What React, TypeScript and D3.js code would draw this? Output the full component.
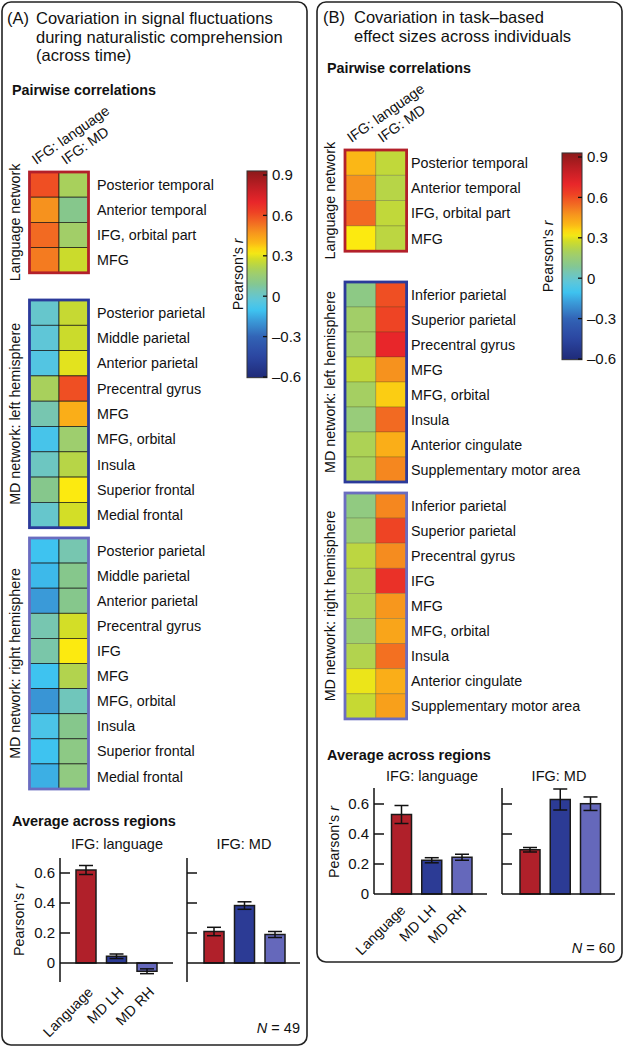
import React from 'react';
import * as d3 from 'd3';

const FONT = "'Liberation Sans', Arial, Helvetica, sans-serif";

// ---------- Heatmap data ----------
const colLabels = ["IFG: language", "IFG: MD"];

// Panel A: naturalistic comprehension
const aLangRegions = ["Posterior temporal", "Anterior temporal", "IFG, orbital part", "MFG"];
const aLangIFGlang = [0.6, 0.48, 0.55, 0.52];
const aLangIFGmd = [0.2, 0.1, 0.18, 0.27];

const aLHRegions = ["Posterior parietal", "Middle parietal", "Anterior parietal", "Precentral gyrus", "MFG", "MFG, orbital", "Insula", "Superior frontal", "Medial frontal"];
const aLHIFGlang = [0.0, -0.02, -0.05, 0.2, 0.05, -0.08, 0.02, 0.1, 0.0];
const aLHIFGmd = [0.26, 0.27, 0.3, 0.6, 0.42, 0.17, 0.23, 0.33, 0.28];

const aRHRegions = ["Posterior parietal", "Middle parietal", "Anterior parietal", "Precentral gyrus", "IFG", "MFG", "MFG, orbital", "Insula", "Superior frontal", "Medial frontal"];
const aRHIFGlang = [-0.1, -0.12, -0.18, 0.05, 0.06, -0.1, -0.19, -0.07, -0.1, -0.14];
const aRHIFGmd = [0.05, 0.1, 0.1, 0.28, 0.33, 0.22, 0.03, 0.1, 0.12, 0.13];

// Panel B: task-based effect sizes
const bLangRegions = ["Posterior temporal", "Anterior temporal", "IFG, orbital part", "MFG"];
const bLangIFGlang = [0.4, 0.48, 0.55, 0.33];
const bLangIFGmd = [0.25, 0.23, 0.25, 0.24];

const bLHRegions = ["Inferior parietal", "Superior parietal", "Precentral gyrus", "MFG", "MFG, orbital", "Insula", "Anterior cingulate", "Supplementary motor area"];
const bLHIFGlang = [0.12, 0.18, 0.18, 0.25, 0.19, 0.15, 0.21, 0.2];
const bLHIFGmd = [0.6, 0.62, 0.7, 0.48, 0.37, 0.55, 0.42, 0.5];

const bRHRegions = ["Inferior parietal", "Superior parietal", "Precentral gyrus", "IFG", "MFG", "MFG, orbital", "Insula", "Anterior cingulate", "Supplementary motor area"];
const bRHIFGlang = [0.13, 0.16, 0.24, 0.21, 0.21, 0.17, 0.22, 0.31, 0.26];
const bRHIFGmd = [0.5, 0.62, 0.49, 0.67, 0.47, 0.44, 0.54, 0.42, 0.45];

const colorbarTicks = [0.9, 0.6, 0.3, 0, -0.3, -0.6];
const colorbarTickLabels = ["0.9", "0.6", "0.3", "0", "–0.3", "–0.6"];

// ---------- Bar data ----------
const barCategories = ["Language", "MD LH", "MD RH"];
const aLangMean = [0.62, 0.045, -0.055];
const aLangErr = [0.03, 0.015, 0.016];
const aMDMean = [0.21, 0.383, 0.19];
const aMDErr = [0.028, 0.025, 0.02];
const bLangMean = [0.53, 0.225, 0.245];
const bLangErr = [0.06, 0.017, 0.02];
const bMDMean = [0.295, 0.63, 0.602];
const bMDErr = [0.015, 0.07, 0.045];
const barTicks = [0, 0.2, 0.4, 0.6];
const barTickLabels = ["0", "0.2", "0.4", "0.6"];

// ---------- Styles ----------
const cmapStops = [-0.6, -0.45, -0.3, -0.18, -0.1, -0.03, 0.05, 0.1, 0.15, 0.2, 0.27, 0.33, 0.4, 0.48, 0.55, 0.62, 0.7, 0.8, 0.93];
const cmapColors = ["#1f2a78", "#2b45a0", "#3262b5", "#3a9ad8", "#3ec3f0", "#5cc6dc", "#77c6b0", "#86c78c", "#98cc7a", "#a8d05c", "#cbdb2c", "#fcea10", "#fbb716", "#f6921e", "#f26a22", "#ee4424", "#e8262a", "#c41e25", "#8b1a1a"];
const cmap = d3.scaleLinear<string>().domain(cmapStops).range(cmapColors).interpolate(d3.interpolateRgb).clamp(true);

const LANG_BORDER = "#b3202a";
const LH_BORDER = "#2b3a9a";
const RH_BORDER = "#6a6dc0";
const barColors = ["#b0202a", "#2c3b95", "#6568bb"];

type HeatProps = {
  x0: number; top: number; cellW: number; rowH: number;
  regions: string[]; v1: number[]; v2: number[];
  border: string; labelX: number; groupLabel: string; groupX: number; sep: string;
};

function HeatGroup(p: HeatProps) {
  const n = p.regions.length;
  const y = d3.scaleBand<number>().domain(d3.range(n)).range([p.top, p.top + n * p.rowH]);
  const x = d3.scaleBand<string>().domain(colLabels).range([p.x0, p.x0 + 2 * p.cellW]);
  const vals = [p.v1, p.v2];
  const h = n * p.rowH;
  return (
    <g>
      {colLabels.map((c, j) =>
        d3.range(n).map(i => (
          <rect key={c + i} x={x(c)} y={y(i)} width={x.bandwidth()} height={y.bandwidth()}
            fill={cmap(vals[j][i])} stroke={p.sep} strokeWidth={0.8} />
        ))
      )}
      <rect x={p.x0} y={p.top} width={2 * p.cellW} height={h} fill="none" stroke={p.border} strokeWidth={2.8} />
      {p.regions.map((r, i) => (
        <text key={r + i} x={p.labelX} y={(y(i) as number) + y.bandwidth() / 2} dy="0.36em"
          fontSize={14.3} fontFamily={FONT} fill="#111">{r}</text>
      ))}
      <text transform={`translate(${p.groupX},${p.top + h / 2}) rotate(-90)`} textAnchor="middle"
        fontSize={14.3} fontFamily={FONT} fill="#111">{p.groupLabel}</text>
    </g>
  );
}

function ColHeaders({ x0, cellW, top, dx }: { x0: number; cellW: number; top: number; dx: number }) {
  const x = d3.scaleBand<string>().domain(colLabels).range([x0, x0 + 2 * cellW]);
  return (
    <g>
      {colLabels.map(c => (
        <text key={c} transform={`translate(${(x(c) as number) + cellW / 2 + dx},${top - 7}) rotate(-35)`}
          fontSize={14.3} fontFamily={FONT} fill="#111">{c}</text>
      ))}
    </g>
  );
}

function Colorbar({ x, y9, y6, w, labelX, id }: { x: number; y9: number; y6: number; w: number; labelX: number; id: string }) {
  const y = d3.scaleLinear().domain([-0.6, 0.9]).range([y6, y9]);
  const gradVals = d3.range(0, 41).map(k => -0.6 + (k / 40) * 1.53);
  const top = y(0.93);
  const bot = y(-0.605);
  return (
    <g>
      <defs>
        <linearGradient id={id} x1="0" y1="1" x2="0" y2="0">
          {gradVals.map((v, k) => (
            <stop key={k} offset={`${(k / 40) * 100}%`} stopColor={cmap(v)} />
          ))}
        </linearGradient>
      </defs>
      <rect x={x} y={top} width={w} height={bot - top} fill={`url(#${id})`} stroke="#333" strokeWidth={1} />
      {colorbarTicks.map((t, k) => (
        <g key={t}>
          <line x1={x + w - 4} x2={x + w} y1={y(t)} y2={y(t)} stroke="#111" strokeWidth={1.3} />
          <text x={x + w + 5} y={y(t)} dy="0.36em" fontSize={15} fontFamily={FONT} fill="#111">{colorbarTickLabels[k]}</text>
        </g>
      ))}
      <text transform={`translate(${labelX},${(top + bot) / 2}) rotate(-90)`} textAnchor="middle" fontSize={14.3} fontFamily={FONT} fill="#111">
        Pearson's <tspan fontStyle="italic">r</tspan>
      </text>
    </g>
  );
}

type BarProps = {
  axisX: number; y0: number; y06: number; yMin: number; yMax: number;
  means: number[]; errs: number[]; showLabels: boolean; labels: boolean;
  firstOff: number; lastOff: number; labelDx: number; labelY: number;
};

function BarSub(p: BarProps) {
  const y = d3.scaleLinear().domain([0, 0.6]).range([p.y0, p.y06]);
  const x = d3.scalePoint<string>().domain(barCategories).range([p.axisX + p.firstOff, p.axisX + p.lastOff]);
  const bw = 20;
  return (
    <g>
      {barCategories.map((c, i) => {
        const cx = x(c) as number;
        const m = p.means[i];
        const e = p.errs[i];
        const yt = Math.min(y(m), y(0));
        const hh = Math.abs(y(m) - y(0));
        return (
          <g key={c}>
            <rect x={cx - bw / 2} y={yt} width={bw} height={hh} fill={barColors[i]} stroke="#1a1a1a" strokeWidth={1.5} />
            <line x1={cx} x2={cx} y1={y(m - e)} y2={y(m + e)} stroke="#111" strokeWidth={1.5} />
            <line x1={cx - 7} x2={cx + 7} y1={y(m - e)} y2={y(m - e)} stroke="#111" strokeWidth={1.5} />
            <line x1={cx - 7} x2={cx + 7} y1={y(m + e)} y2={y(m + e)} stroke="#111" strokeWidth={1.5} />
          </g>
        );
      })}
      <line x1={p.axisX} x2={p.axisX} y1={y(p.yMin)} y2={y(p.yMax)} stroke="#111" strokeWidth={1.5} />
      <line x1={p.axisX} x2={p.axisX + 113} y1={y(0)} y2={y(0)} stroke="#111" strokeWidth={1.5} />
      {barTicks.filter(t => t > 0).map(t => (
        <line key={t} x1={p.axisX} x2={p.axisX + 10} y1={y(t)} y2={y(t)} stroke="#111" strokeWidth={1.5} />
      ))}
      {p.showLabels && barTicks.map((t, k) => (
        <text key={t} x={p.axisX - 5} y={y(t)} dy="0.36em" textAnchor="end" fontSize={15} fontFamily={FONT} fill="#111">{barTickLabels[k]}</text>
      ))}
      {p.labels && barCategories.map(c => (
        <text key={c} transform={`translate(${(x(c) as number) + p.labelDx},${p.labelY}) rotate(-45)`} textAnchor="end"
          fontSize={14.3} fontFamily={FONT} fill="#111">{c}</text>
      ))}
    </g>
  );
}

const T = { fontFamily: FONT, fill: "#111" } as const;

export default function App() {
  return (
    <svg width={625} height={1050} style={{ position: 'absolute', left: 0, top: 0, background: '#fff' }}>
      {/* Panel boxes */}
      <rect x={2} y={2} width={305} height={1043} rx={9} fill="none" stroke="#222" strokeWidth={1.6} />
      <rect x={317} y={2} width={305} height={960} rx={9} fill="none" stroke="#222" strokeWidth={1.6} />

      {/* ===== Panel A ===== */}
      <text x={7} y={24} fontSize={16.5} {...T}>(A)</text>
      <text x={36} y={24} fontSize={16.5} {...T}>Covariation in signal fluctuations</text>
      <text x={36} y={43} fontSize={16.5} {...T}>during naturalistic comprehension</text>
      <text x={36} y={61} fontSize={16.5} {...T}>(across time)</text>
      <text x={12} y={95} fontSize={14.3} fontWeight="bold" {...T}>Pairwise correlations</text>

      <ColHeaders x0={29.5} cellW={29.5} top={172} dx={-8} />
      <HeatGroup x0={29.5} top={172} cellW={29.5} rowH={25.2} regions={aLangRegions} v1={aLangIFGlang} v2={aLangIFGmd}
        border={LANG_BORDER} labelX={97} groupLabel="Language network" groupX={20} sep="rgba(20,20,20,0.85)" />
      <HeatGroup x0={29.5} top={300} cellW={29.5} rowH={25.3} regions={aLHRegions} v1={aLHIFGlang} v2={aLHIFGmd}
        border={LH_BORDER} labelX={97} groupLabel="MD network: left hemisphere" groupX={20} sep="rgba(20,20,20,0.85)" />
      <HeatGroup x0={29.5} top={538} cellW={29.5} rowH={25.1} regions={aRHRegions} v1={aRHIFGlang} v2={aRHIFGmd}
        border={RH_BORDER} labelX={97} groupLabel="MD network: right hemisphere" groupX={20} sep="rgba(20,20,20,0.85)" />

      <Colorbar x={247} y9={175} y6={377} w={20} labelX={243} id="cbA" />

      <text x={12} y={826} fontSize={14.5} fontWeight="bold" {...T}>Average across regions</text>
      <text x={117} y={849} fontSize={14.5} textAnchor="middle" {...T}>IFG: language</text>
      <text x={244} y={849} fontSize={14.5} textAnchor="middle" {...T}>IFG: MD</text>
      <text transform="translate(24,920) rotate(-90)" textAnchor="middle" fontSize={14.3} {...T}>
        Pearson's <tspan fontStyle="italic">r</tspan>
      </text>
      <BarSub axisX={60} y0={963} y06={873} yMin={-0.127} yMax={0.7} means={aLangMean} errs={aLangErr}
        showLabels={true} labels={true} firstOff={26} lastOff={87} labelDx={8} labelY={993} />
      <BarSub axisX={187} y0={963} y06={873} yMin={-0.127} yMax={0.7} means={aMDMean} errs={aMDErr}
        showLabels={false} labels={false} firstOff={27} lastOff={88} labelDx={8} labelY={993} />
      <text x={300} y={1033} textAnchor="end" fontSize={14.5} {...T}><tspan fontStyle="italic">N</tspan> = 49</text>

      {/* ===== Panel B ===== */}
      <text x={323} y={23} fontSize={16.5} {...T}>(B)</text>
      <text x={354} y={23} fontSize={16.5} {...T}>Covariation in task–based</text>
      <text x={354} y={42} fontSize={16.5} {...T}>effect sizes across individuals</text>
      <text x={327} y={73} fontSize={14.3} fontWeight="bold" {...T}>Pairwise correlations</text>

      <ColHeaders x0={345} cellW={30.8} top={150} dx={-9} />
      <HeatGroup x0={345} top={150} cellW={30.8} rowH={25.3} regions={bLangRegions} v1={bLangIFGlang} v2={bLangIFGmd}
        border={LANG_BORDER} labelX={411} groupLabel="Language network" groupX={335} sep="rgba(60,60,30,0.3)" />
      <HeatGroup x0={345} top={282} cellW={30.8} rowH={25} regions={bLHRegions} v1={bLHIFGlang} v2={bLHIFGmd}
        border={LH_BORDER} labelX={411} groupLabel="MD network: left hemisphere" groupX={335} sep="rgba(60,60,30,0.3)" />
      <HeatGroup x0={345} top={493} cellW={30.8} rowH={25.1} regions={bRHRegions} v1={bRHIFGlang} v2={bRHIFGmd}
        border={RH_BORDER} labelX={411} groupLabel="MD network: right hemisphere" groupX={335} sep="rgba(60,60,30,0.3)" />

      <Colorbar x={562} y9={157} y6={359} w={20} labelX={553} id="cbB" />

      <text x={327} y={760} fontSize={14.5} fontWeight="bold" {...T}>Average across regions</text>
      <text x={432} y={781} fontSize={14.5} textAnchor="middle" {...T}>IFG: language</text>
      <text x={559} y={781} fontSize={14.5} textAnchor="middle" {...T}>IFG: MD</text>
      <text transform="translate(339,842) rotate(-90)" textAnchor="middle" fontSize={14.3} {...T}>
        Pearson's <tspan fontStyle="italic">r</tspan>
      </text>
      <BarSub axisX={374} y0={894} y06={804} yMin={0} yMax={0.707} means={bLangMean} errs={bLangErr}
        showLabels={true} labels={true} firstOff={27.5} lastOff={88} labelDx={5} labelY={911} />
      <BarSub axisX={502} y0={894} y06={804} yMin={0} yMax={0.707} means={bMDMean} errs={bMDErr}
        showLabels={false} labels={false} firstOff={28} lastOff={88.5} labelDx={5} labelY={911} />
      <text x={615} y={953} textAnchor="end" fontSize={14.5} {...T}><tspan fontStyle="italic">N</tspan> = 60</text>
    </svg>
  );
}
